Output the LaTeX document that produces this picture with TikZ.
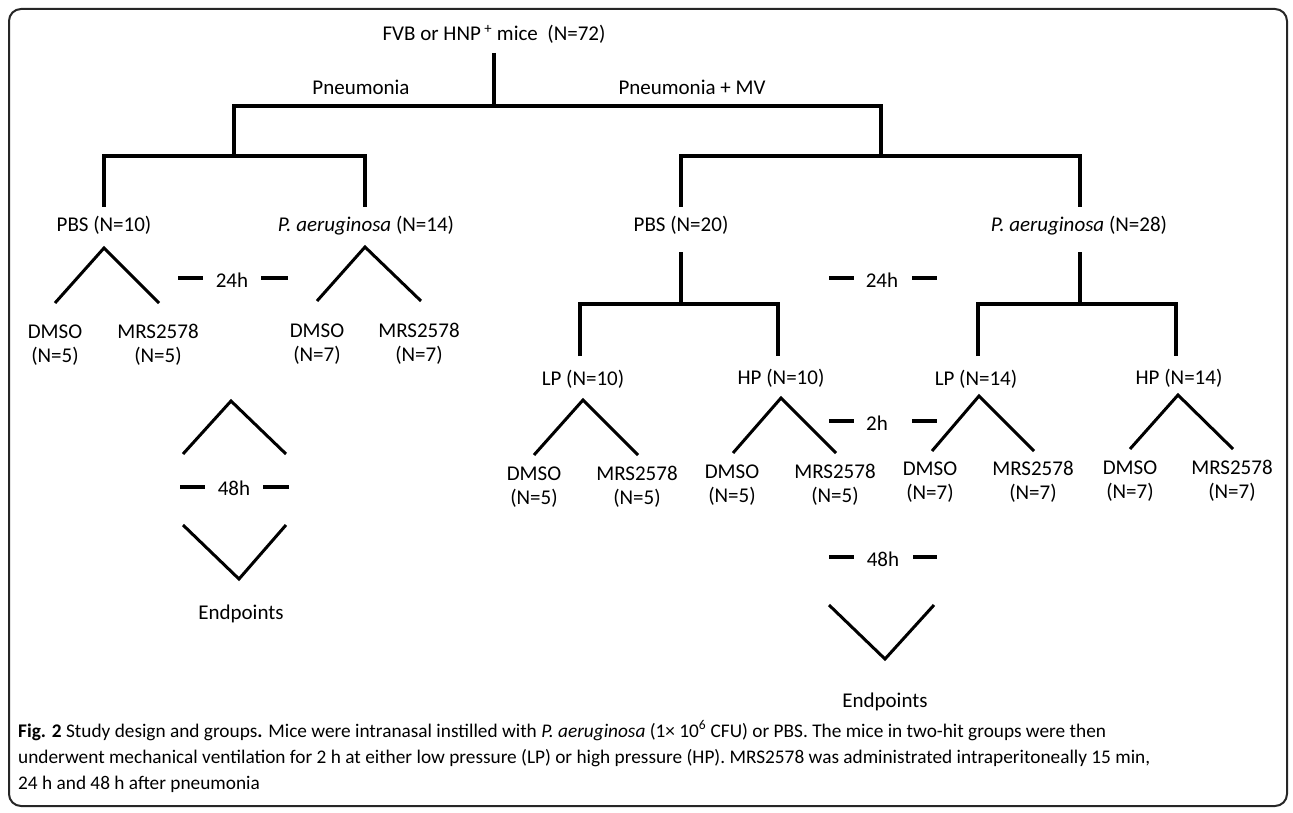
\documentclass[tikz,border=0pt]{standalone}
\usepackage{fontspec}
\setmainfont{Carlito}
\begin{document}
\begin{tikzpicture}[x=1pt,y=-1pt,
  lbl/.style={inner sep=0pt, anchor=base, font=\fontsize{21}{24}\selectfont},
  two/.style={lbl, align=center},
  tree/.style={line width=4pt, line join=miter},
  wedge/.style={line width=3pt, line join=miter},
  tick/.style={line width=4pt},
  frame/.style={draw=black!85, line width=2pt, rounded corners=12pt},
  captext/.style={inner sep=0pt, anchor=base west, align=left, font=\fontsize{19.3}{26}\selectfont}
]
\useasboundingbox (0,0) rectangle (1293,813);
\draw[frame] (9,9) rectangle (1287,806);

% ---------- labels ----------
\node[lbl] (root) at (494,41) {FVB or HNP\,\textsuperscript{+} mice\ \ (N=72)};
\node[lbl] (pn) at (361,95) {Pneumonia};
\node[lbl] (pnmv) at (692,95) {Pneumonia + MV};
\node[lbl] (pbs1) at (104,232) {PBS (N=10)};
\node[lbl] (pa1) at (366,232) {\textit{P. aeruginosa} (N=14)};
\node[lbl] (pbs2) at (681,232) {PBS (N=20)};
\node[lbl] (pa2) at (1079,232) {\textit{P. aeruginosa} (N=28)};

% two-line nodes: base anchor sits on the last line
\node[two] (d1) at (55,362) {DMSO\\(N=5)};
\node[two] (m1) at (158,362) {MRS2578\\(N=5)};
\node[two] (d2) at (317,361) {DMSO\\(N=7)};
\node[two] (m2) at (419,361) {MRS2578\\(N=7)};

\node[lbl] (lp1) at (583,385) {LP (N=10)};
\node[lbl] (hp1) at (781,384) {HP (N=10)};
\node[lbl] (lp2) at (976,385) {LP (N=14)};
\node[lbl] (hp2) at (1179,384) {HP (N=14)};

\node[two] (d3) at (534,504) {DMSO\\(N=5)};
\node[two] (m3) at (637,504) {MRS2578\\(N=5)};
\node[two] (d4) at (732,502) {DMSO\\(N=5)};
\node[two] (m4) at (835,502) {MRS2578\\(N=5)};
\node[two] (d5) at (930,499) {DMSO\\(N=7)};
\node[two] (m5) at (1033,499) {MRS2578\\(N=7)};
\node[two] (d6) at (1130,498) {DMSO\\(N=7)};
\node[two] (m6) at (1232,498) {MRS2578\\(N=7)};

\node[lbl] (t24a) at (232,287) {24h};
\node[lbl] (t24b) at (882,287) {24h};
\node[lbl] (t2) at (877,430) {2h};
\node[lbl] (t48a) at (234,495) {48h};
\node[lbl] (t48b) at (883,566) {48h};
\node[lbl] (endA) at (241,619) {Endpoints};
\node[lbl] (endB) at (885,707) {Endpoints};

% ---------- tree connectors ----------
\coordinate (r0) at (494,53);
\coordinate (r1) at (494,106);
\draw[tree] (r0) -- (r1);
\draw[tree] (234,156) -- (234,106) -- (881,106) -- (881,156);
\draw[tree] (104,207) -- (104,156) -- (365,156) -- (365,207);
\draw[tree] (681,207) -- (681,156) -- (1080,156) -- (1080,207);
\draw[tree] (681,252) -- (681,304);
\draw[tree] (580,356) -- (580,304) -- (778,304) -- (778,356);
\draw[tree] (1080,252) -- (1080,304);
\draw[tree] (978,356) -- (978,304) -- (1176,304) -- (1176,356);

% ---------- wedges ----------
\draw[wedge] (55,303) -- (104,248) -- (159,303);
\draw[wedge] (317,301) -- (365,247) -- (421,301);
\draw[wedge] (183,454) -- (231,401) -- (286,454);
\draw[wedge] (183,525) -- (239,579) -- (286,525);
\draw[wedge] (534,455) -- (583,400) -- (638,455);
\draw[wedge] (733,453) -- (781,398) -- (836,453);
\draw[wedge] (932,451) -- (979,396) -- (1034,451);
\draw[wedge] (1130,449) -- (1178,395) -- (1233,449);
\draw[wedge] (829,605) -- (885,659) -- (934,605);

% ---------- time ticks ----------
\draw[tick] (178,278) -- (203,278);  \draw[tick] (261,278) -- (288,278);
\draw[tick] (180,487) -- (205,487);  \draw[tick] (263,487) -- (289,487);
\draw[tick] (829,278) -- (854,278);  \draw[tick] (912,278) -- (937,278);
\draw[tick] (829,421) -- (854,421);  \draw[tick] (912,421) -- (937,421);
\draw[tick] (829,557) -- (854,557);  \draw[tick] (913,557) -- (937,557);

% ---------- caption (base anchor = last line) ----------
\node[captext] (caption) at (18,789) {\textbf{Fig. 2} Study design and groups\textbf{.} Mice were intranasal instilled with \textit{P. aeruginosa} (1× 10\textsuperscript{6} CFU) or PBS. The mice in two-hit groups were then\\
underwent mechanical ventilation for 2 h at either low pressure (LP) or high pressure (HP). MRS2578 was administrated intraperitoneally 15 min,\\
24 h and 48 h after pneumonia};
\end{tikzpicture}
\end{document}
